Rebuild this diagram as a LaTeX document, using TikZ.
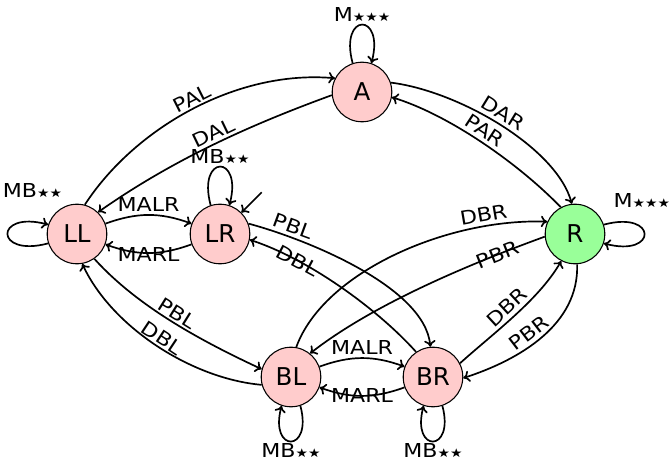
\documentclass[tikz,border=0pt]{standalone}
\usepackage{fontspec}
\setmainfont{DejaVu Sans}
\newfontfamily\lblfont{DejaVu Sans}[FakeStretch=1.15]
\usetikzlibrary{arrows.meta}
\definecolor{pinkc}{RGB}{255,204,204}
\definecolor{greenc}{RGB}{153,255,153}
\newcommand\sst{{\fontsize{6.8}{6}\selectfont ★}}
\begin{document}
\begin{tikzpicture}[x=0.5622pt, y=0.5622pt,
  stnode/.style={circle, draw, line width=0.6pt, minimum size=33.5pt, inner sep=0pt, font=\fontsize{13.8}{16}\selectfont},
  pinkst/.style={stnode, fill=pinkc},
  greenst/.style={stnode, fill=greenc},
  edge/.style={-{Computer Modern Rightarrow[length=3.6pt, width=6.4pt]}, line width=0.95pt},
  lbl/.style={font=\lblfont\fontsize{10.8}{12}\selectfont, inner sep=2pt}
]
\useasboundingbox (0,0) rectangle (669,-460);
\node[pinkst] (A) at (362,-92) {A};
\node[pinkst] (LL) at (77,-234) {LL};
\node[pinkst] (LR) at (220,-234) {LR};
\node[greenst] (R) at (575,-234) {R};
\node[pinkst] (BL) at (291,-377) {BL};
\node[pinkst] (BR) at (433,-377) {BR};
\coordinate (LRstart) at ([shift={(45:59)}]LR.center);

% loops
\draw[edge] (A.108) .. controls +(105:53) and +(75:53) .. node[lbl, pos=0.5, above, inner sep=1.5pt] {M\sst\sst\sst} (A.72);
\draw[edge] (LR.108) .. controls +(105:53) and +(75:53) .. node[lbl, pos=0.5, above, inner sep=1.5pt] {MB\sst\sst} (LR.72);
\draw[edge] (LL.198) .. controls +(195:56) and +(165:56) .. node[lbl, pos=0.5, anchor=center, xshift=14pt, yshift=24.2pt] {MB\sst\sst} (LL.162);
\draw[edge] (R.18) .. controls +(15:56) and +(-15:56) .. node[lbl, pos=0.5, anchor=center, xshift=-1.5pt, yshift=18.6pt] {M\sst\sst\sst} (R.-18);
\draw[edge] (BL.288) .. controls +(285:49) and +(255:49) .. node[lbl, pos=0.5, below, inner sep=0.5pt] {MB\sst\sst} (BL.252);
\draw[edge] (BR.288) .. controls +(285:49) and +(255:49) .. node[lbl, pos=0.5, below, inner sep=0.5pt] {MB\sst\sst} (BR.252);

% initial
\draw[edge] (LRstart) -- (LR);

% A edges
\draw[edge] (LL.75) .. controls +(57:90) and +(175:100) .. node[lbl, above, sloped, pos=0.52, inner sep=1pt] {PAL} (A.153);
\draw[edge] (A.186) .. controls +(200:90) and +(35:90) .. node[lbl, above, sloped, pos=0.47, inner sep=1.5pt] {DAL} (LL.46);
\draw[edge] (A.18) .. controls +(-7:68) and +(105:58) .. node[lbl, above, sloped, pos=0.48] {DAR} (R.96);
\draw[edge] (R.118) .. controls +(134:60) and +(-17:60) .. node[lbl, above, sloped, pos=0.52] {PAR} (A.-10);

% horizontal pairs
\draw[edge] (LL) to[bend left=20] node[lbl, above, inner sep=1.5pt] {MALR} (LR);
\draw[edge] (LR) to[bend left=20] node[lbl, below=-3.5pt, inner sep=0pt] {MARL} (LL);
\draw[edge] (BL) to[bend left=20] node[lbl, above, inner sep=1.5pt] {MALR} (BR);
\draw[edge] (BR) to[bend left=20] node[lbl, below=-4.5pt, inner sep=0pt] {MARL} (BL);

% crossing edges
\draw[edge] (LR.20) .. controls +(-15:60) and +(95:60) .. node[lbl, above, sloped, pos=0.2] {PBL} (BR.95);
\draw[edge] (BR.124) .. controls +(132:60) and +(-18:60) .. node[lbl, sloped, pos=0.73] {DBL} (LR.-11);
\draw[edge] (BL.80) .. controls +(70:80) and +(178:100) .. node[lbl, above, sloped, pos=0.8] {DBR} (R.156);
\draw[edge] (R.185) .. controls +(200:80) and +(38:80) .. node[lbl, sloped, pos=0.2] {PBR} (BL.51);

% R - BR
\draw[edge] (BR.27) .. controls +(42:45) and +(240:45) .. node[lbl, above, sloped, pos=0.5] {DBR} (R.243);
\draw[edge] (R.-86) .. controls +(-88:60) and +(18:60) .. node[lbl, above, sloped, pos=0.55] {PBR} (BR.-2);

% LL - BL
\draw[edge] (LL.-55) .. controls +(-48:65) and +(155:65) .. node[lbl, above, sloped, pos=0.5, inner sep=1pt] {PBL} (BL.165);
\draw[edge] (BL.195) .. controls +(175:70) and +(-65:70) .. node[lbl, above, sloped, pos=0.5, inner sep=1pt] {DBL} (LL.-80);
\end{tikzpicture}
\end{document}
